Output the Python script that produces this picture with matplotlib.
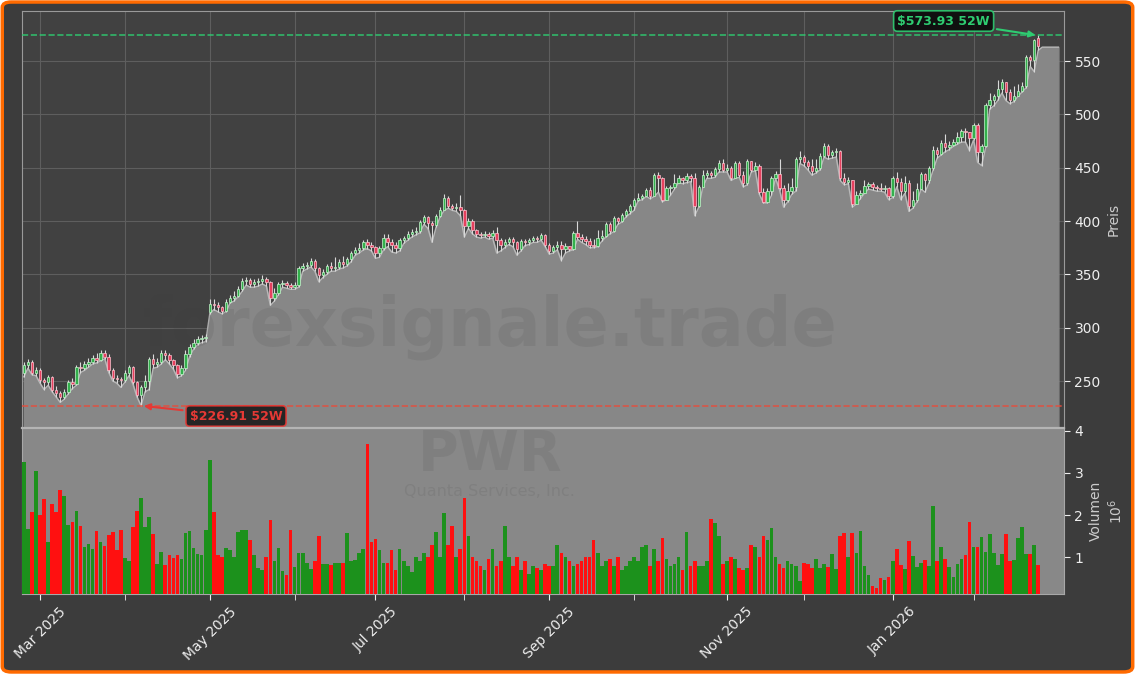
import matplotlib.pyplot as plt
import matplotlib.patches as mpatches
import numpy as np
import pandas as pd

# trading days (NYSE holidays left out)
holidays = ['2025-04-18', '2025-05-26', '2025-06-19', '2025-07-04', '2025-09-01',
            '2025-11-27', '2025-12-25', '2026-01-01', '2026-01-19', '2026-02-16']
start_day = '2025-02-25'
end_day = '2026-02-25'

first_open = 258
gap_opens = {46: 315, 251: 572}

closes = [265, 268, 258, 260, 251, 249, 254, 242, 239, 235,
          240, 249, 247, 263, 262, 266, 268, 272, 270, 276,
          273, 260, 253, 252, 251, 258, 263, 249, 237, 244,
          250, 271, 266, 268, 276, 274, 270, 265, 257, 262,
          275, 282, 286, 289, 290, 291, 322, 321, 319, 316,
          324, 328, 330, 336, 344, 345, 341, 343, 344, 346,
          343, 328, 333, 341, 342, 340, 338, 340, 356, 358,
          359, 363, 356, 349, 352, 358, 356, 357, 362, 360,
          364, 370, 373, 375, 380, 378, 376, 370, 375, 384,
          380, 378, 375, 382, 384, 388, 390, 391, 399, 404,
          398, 396, 405, 410, 422, 414, 412, 413, 410, 395,
          400, 392, 388, 387, 388, 386, 389, 382, 378, 380,
          383, 380, 374, 381, 380, 382, 384, 383, 387, 378,
          372, 376, 378, 374, 377, 374, 389, 385, 383, 381,
          378, 377, 384, 386, 397, 391, 403, 400, 406, 409,
          414, 420, 422, 423, 429, 423, 443, 440, 420, 431,
          432, 436, 440, 438, 442, 440, 414, 432, 443, 445,
          443, 449, 454, 448, 450, 440, 454, 443, 436, 456,
          448, 452, 427, 418, 428, 440, 444, 431, 420, 428,
          432, 458, 460, 455, 452, 447, 450, 461, 470, 462,
          465, 466, 440, 437, 438, 416, 424, 426, 433, 435,
          432, 431, 430, 431, 423, 440, 437, 428, 436, 414,
          420, 430, 444, 438, 450, 467, 463, 473, 469, 471,
          474, 479, 484, 483, 478, 490, 465, 470, 509, 513,
          517, 524, 530, 521, 513, 517, 522, 527, 554, 551,
          570, 564]

highs = [268, 271, 270, 263, 262, 253, 256, 255, 245, 241,
         243, 251, 253, 265, 268, 269, 272, 274, 276, 279,
         279, 275, 262, 256, 254, 260, 265, 264, 250, 246,
         256, 273, 275, 272, 279, 279, 276, 271, 266, 265,
         279, 285, 289, 292, 293, 294, 327, 327, 324, 320,
         327, 331, 334, 339, 347, 348, 347, 346, 347, 349,
         348, 344, 337, 343, 345, 344, 342, 343, 358, 361,
         362, 365, 364, 357, 355, 360, 362, 366, 364, 367,
         366, 372, 376, 379, 382, 383, 380, 377, 377, 388,
         388, 383, 380, 384, 386, 391, 393, 394, 401, 406,
         405, 400, 407, 413, 425, 423, 416, 417, 424, 411,
         403, 402, 393, 390, 391, 390, 392, 394, 384, 383,
         385, 385, 381, 383, 383, 384, 386, 386, 389, 388,
         379, 378, 381, 381, 379, 377, 391, 400, 388, 386,
         384, 383, 392, 392, 399, 399, 405, 404, 408, 411,
         416, 422, 426, 425, 431, 432, 445, 446, 441, 433,
         434, 444, 443, 441, 445, 444, 445, 434, 448, 448,
         447, 451, 457, 458, 453, 452, 456, 456, 447, 458,
         452, 455, 453, 431, 431, 442, 447, 458, 434, 436,
         440, 460, 466, 462, 457, 458, 458, 464, 473, 472,
         467, 468, 467, 445, 441, 438, 428, 429, 438, 437,
         437, 434, 436, 434, 432, 442, 446, 440, 442, 438,
         428, 436, 446, 445, 452, 470, 469, 476, 482, 475,
         477, 483, 486, 487, 482, 492, 492, 472, 511, 520,
         519, 532, 533, 529, 524, 527, 528, 530, 556, 556,
         571, 573.93]

lows = [254, 262, 256, 255, 248, 242, 246, 240, 235, 230,
        233, 238, 243, 246, 258, 260, 263, 266, 267, 269,
        271, 258, 250, 248, 244, 249, 255, 247, 235, 226.91,
        240, 242, 262, 263, 266, 270, 266, 261, 253, 255,
        260, 273, 280, 284, 286, 287, 313, 317, 315, 313,
        315, 323, 325, 329, 334, 340, 338, 338, 339, 341,
        339, 321, 325, 331, 338, 337, 336, 336, 338, 353,
        355, 357, 353, 343, 347, 350, 353, 353, 355, 356,
        358, 362, 368, 370, 373, 374, 372, 365, 366, 373,
        376, 371, 370, 372, 379, 382, 385, 387, 389, 397,
        393, 380, 394, 404, 410, 412, 410, 409, 405, 385,
        393, 388, 385, 384, 385, 383, 384, 370, 372, 375,
        378, 376, 368, 372, 377, 378, 380, 380, 382, 376,
        369, 370, 373, 363, 370, 372, 373, 383, 380, 378,
        375, 375, 376, 381, 385, 388, 390, 397, 399, 404,
        407, 410, 419, 420, 424, 421, 423, 427, 418, 424,
        424, 430, 437, 435, 436, 437, 405, 413, 432, 440,
        440, 441, 446, 446, 446, 438, 440, 441, 432, 434,
        446, 447, 425, 417, 417, 424, 440, 429, 413, 418,
        425, 428, 454, 452, 448, 443, 445, 448, 460, 458,
        459, 460, 438, 434, 435, 413, 418, 421, 428, 430,
        429, 428, 428, 427, 420, 422, 432, 420, 426, 409,
        412, 418, 430, 427, 436, 448, 459, 462, 465, 467,
        470, 472, 474, 474, 466, 476, 455, 452, 469, 505,
        508, 513, 520, 513, 510, 512, 518, 521, 525, 545,
        540, 560]

# volume in millions of shares
volumes = [3.25, 1.67, 2.07, 3.05, 2.0, 2.38, 1.36, 2.25, 2.07, 2.6,
           2.45, 1.76, 1.83, 2.1, 1.74, 1.24, 1.32, 1.19, 1.62, 1.37,
           1.26, 1.52, 1.6, 1.17, 1.64, 0.98, 0.9, 1.71, 2.1, 2.41,
           1.71, 1.95, 1.55, 0.83, 1.13, 0.81, 1.05, 0.98, 1.05, 0.97,
           1.58, 1.62, 1.21, 1.08, 1.06, 1.64, 3.31, 2.07, 1.05, 1.0,
           1.21, 1.17, 1.0, 1.6, 1.65, 1.65, 1.4, 1.06, 0.74, 0.7,
           1.0, 1.88, 0.92, 1.21, 0.68, 0.57, 1.65, 0.76, 1.1, 1.09,
           0.87, 0.72, 0.9, 1.5, 0.83, 0.83, 0.81, 0.86, 0.86, 0.87,
           1.58, 0.92, 0.94, 1.1, 1.19, 3.69, 1.36, 1.43, 1.17, 0.87,
           0.86, 1.17, 0.7, 1.2, 0.9, 0.8, 0.65, 1.0, 0.9, 1.1,
           1.0, 1.3, 1.6, 1.0, 2.05, 1.3, 1.75, 1.0, 1.2, 2.4,
           1.5, 1.0, 0.9, 0.8, 0.7, 0.95, 1.2, 0.8, 0.9, 1.75,
           1.0, 0.8, 1.0, 0.7, 0.9, 0.6, 0.8, 0.75, 0.7, 0.85,
           0.8, 0.8, 1.3, 1.1, 1.0, 0.9, 0.8, 0.85, 0.9, 1.0,
           1.0, 1.4, 1.1, 0.8, 0.9, 0.95, 0.8, 1.0, 0.7, 0.8,
           0.9, 1.0, 0.9, 1.25, 1.3, 0.8, 1.2, 0.9, 1.45, 0.95,
           0.8, 0.85, 1.0, 0.7, 1.6, 0.8, 0.9, 0.8, 0.8, 0.9,
           1.9, 1.8, 1.5, 0.85, 0.9, 1.0, 0.95, 0.75, 0.7, 0.75,
           1.3, 1.25, 1.0, 1.5, 1.4, 1.7, 1.0, 0.85, 0.75, 0.9,
           0.85, 0.8, 0.43, 0.86, 0.83, 0.74, 0.95, 0.74, 0.83, 0.78,
           1.07, 0.73, 1.5, 1.57, 1.0, 1.57, 1.1, 1.62, 0.8, 0.57,
           0.31, 0.28, 0.5, 0.47, 0.53, 0.9, 1.19, 0.81, 0.73, 1.38,
           1.02, 0.78, 0.87, 0.94, 0.8, 2.21, 0.9, 1.24, 0.97, 0.78,
           0.54, 0.83, 0.97, 1.05, 1.83, 1.24, 1.24, 1.48, 1.12, 1.54,
           1.1, 0.81, 1.08, 1.54, 0.9, 0.93, 1.45, 1.71, 1.08, 1.08,
           1.28, 0.81]

# area after the last candle
fill_tail = [563, 563, 563, 563, 563]

high_52w = 573.93
low_52w = 226.91
ticker = 'PWR'
company = 'Quanta Services, Inc.'

dates = pd.bdate_range(start_day, end_day, freq='C', holidays=holidays)
n = len(closes)
x = np.arange(n)
c = np.array(closes, dtype=float)
o = np.array([first_open] + closes[:-1], dtype=float)
for k, v in gap_opens.items():
    o[k] = v
hi = np.maximum(np.array(highs, dtype=float), np.maximum(o, c))
lo = np.minimum(np.array(lows, dtype=float), np.minimum(o, c))
up = c >= o

fig = plt.figure(figsize=(11.35, 6.74), dpi=100, facecolor='white')
bg = mpatches.FancyBboxPatch((0.002, 0.003), 0.996, 0.994,
                             boxstyle='round,pad=0,rounding_size=0.008',
                             transform=fig.transFigure, facecolor='#3c3c3c',
                             edgecolor='#ff6a00', lw=2.5, zorder=-10)
fig.add_artist(bg)

ax = fig.add_axes([0.0194, 0.365, 0.9181, 0.6187])
axv = fig.add_axes([0.0194, 0.1187, 0.9181, 0.2463], sharex=ax)

# price panel
ax.set_facecolor('#414141')
ax.set_axisbelow(True)
fx = np.arange(n + len(fill_tail))
fy = list(lo) + fill_tail
ax.fill_between(fx, fy, 0, color='#878787', zorder=2)
ax.plot(fx, fy, color='#b8b8b8', lw=1.0, zorder=2.5)

ax.vlines(x, lo, hi, color='#d9d9d9', lw=0.8, zorder=3)
body = np.maximum(np.abs(c - o), 0.6)
ax.bar(x, body, bottom=np.minimum(o, c), width=0.6,
       color=np.where(up, '#33b04c', '#e6405e'),
       edgecolor=np.where(up, '#c8f5cf', '#ffc4d0'), lw=0.5, zorder=4)

ax.axhline(high_52w, color='#2ecc71', ls='--', lw=1.2, alpha=0.85, zorder=5)
ax.axhline(low_52w, color='#e74c3c', ls='--', lw=1.2, alpha=0.85, zorder=5)

ax.annotate('$%.2f 52W' % high_52w, xy=(n - 1, high_52w), xytext=(227.6, 587.5),
            ha='center', va='center', fontsize=9, fontweight='bold', color='#2ecc71',
            bbox=dict(boxstyle='round,pad=0.3', fc='#0b0b0b', ec='#2ecc71', lw=1.2, alpha=0.9),
            arrowprops=dict(arrowstyle='-|>', color='#2ecc71', lw=1.5), zorder=10)
ax.annotate('$%.2f 52W' % low_52w, xy=(29, low_52w), xytext=(52.5, 217.2),
            ha='center', va='center', fontsize=9, fontweight='bold', color='#e53935',
            bbox=dict(boxstyle='round,pad=0.3', fc='#1a1a1a', ec='#e53935', lw=1.2, alpha=0.9),
            arrowprops=dict(arrowstyle='-|>', color='#e53935', lw=1.5), zorder=10)

ax.text(0.449, 0.242, 'forexsignale.trade', transform=ax.transAxes, ha='center', va='center',
        fontsize=48, fontweight='bold', color='#3a3a3a', alpha=0.11, zorder=2.8)

ax.set_ylim(206, 596.9)
ax.set_xlim(-0.45, 257.4)
ax.yaxis.tick_right()
ax.yaxis.set_label_position('right')
ax.set_ylabel('Preis', color='#cccccc', fontsize=10)
ax.tick_params(axis='y', colors='#eeeeee', labelsize=10, length=4)
ax.tick_params(axis='x', which='both', length=0, labelbottom=False)
ax.grid(True, which='both', color='#5e5e5e', lw=0.8)
for s in ax.spines.values():
    s.set_color('#9a9a9a')

# volume panel
axv.set_facecolor('#888888')
axv.bar(x, volumes, width=0.9, color=np.where(up, '#1c911c', '#ff1010'), zorder=3)
axv.text(0.449, 0.835, ticker, transform=axv.transAxes, ha='center', va='center',
         fontsize=40, fontweight='bold', color='#3a3a3a', alpha=0.11, zorder=1)
axv.text(0.449, 0.615, company, transform=axv.transAxes, ha='center', va='center',
         fontsize=11.5, color='#3a3a3a', alpha=0.11, zorder=1)
axv.set_ylim(0.13, 4.06)
axv.set_yticks([1, 2, 3, 4])
axv.yaxis.tick_right()
axv.yaxis.set_label_position('right')
axv.set_ylabel('Volumen\n$10^6$', color='#cccccc', fontsize=10)
axv.tick_params(axis='y', colors='#eeeeee', labelsize=10, length=4)
for s in axv.spines.values():
    s.set_color('#a8a8a8')
axv.spines['top'].set_color('#b4b4b4')
axv.spines['top'].set_linewidth(1.6)

month_starts = [i for i in range(1, n) if dates[i].month != dates[i - 1].month]
major = [i for i in month_starts if dates[i].month % 2 == 1]
minor = [i for i in month_starts if dates[i].month % 2 == 0]
axv.set_xticks(major)
axv.set_xticklabels([dates[i].strftime('%b %Y') for i in major], rotation=45)
axv.set_xticks(minor, minor=True)
axv.tick_params(axis='x', which='both', colors='#eeeeee', labelsize=10, length=4)

fig.savefig('out.png', dpi=100, facecolor=fig.get_facecolor())
